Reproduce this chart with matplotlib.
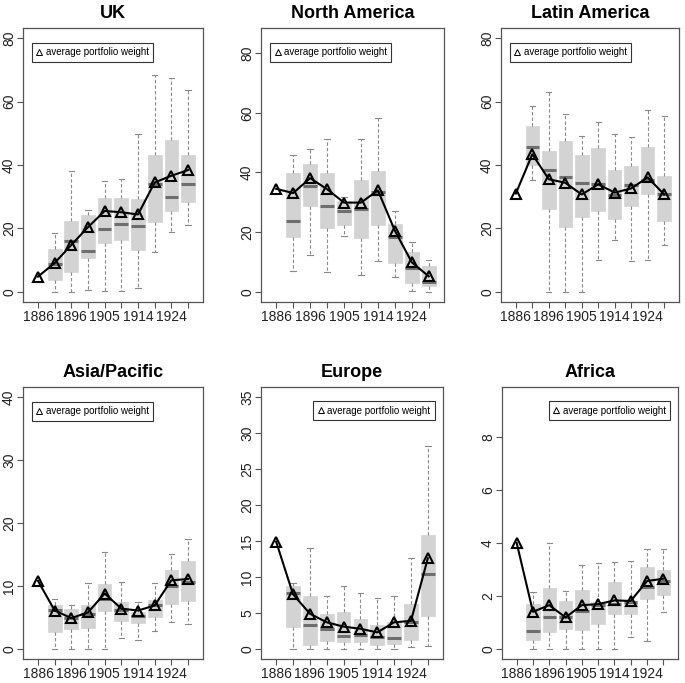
import matplotlib.pyplot as plt

plt.rcParams['font.family'] = ['Liberation Sans', 'DejaVu Sans']

# 10 periods; first one (1886) has only the average, boxes start at period 2
tick_labels = ["1886", "", "1896", "", "1905", "", "1914", "", "1924", ""]

regions = ["UK", "North America", "Latin America", "Asia/Pacific", "Europe", "Africa"]

# average portfolio weight (10 values per region)
uk_mean = [4.8, 9.1, 14.8, 20.4, 25.5, 25.1, 24.4, 34.5, 36.6, 38.4]
na_mean = [34.5, 33.1, 38.1, 34.4, 29.9, 29.9, 34.0, 20.5, 9.9, 5.2]
la_mean = [31.0, 43.4, 35.5, 34.4, 30.7, 33.9, 31.3, 32.6, 36.1, 30.7]
as_mean = [10.8, 6.1, 4.9, 5.8, 8.8, 6.4, 6.1, 6.9, 10.9, 11.1]
eu_mean = [14.9, 7.6, 4.9, 3.7, 3.1, 2.8, 2.3, 3.7, 3.9, 12.6]
af_mean = [4.0, 1.4, 1.65, 1.19, 1.65, 1.69, 1.83, 1.81, 2.56, 2.65]

# box statistics for periods 2..10
uk_q1 = [3.8, 6.3, 10.6, 15.4, 16.2, 13.2, 22.0, 25.6, 28.3]
uk_med = [8.7, 16.0, 13.0, 19.8, 21.3, 20.7, 33.9, 29.8, 33.9]
uk_q3 = [13.5, 22.2, 24.1, 29.6, 29.6, 29.4, 43.2, 47.9, 43.0]
uk_lo = [0.0, 0.0, 0.7, 0.3, 0.3, 1.2, 12.5, 19.0, 21.2]
uk_hi = [18.6, 38.1, 25.7, 34.9, 35.6, 49.7, 68.4, 67.5, 63.7]

na_q1 = [18.4, 28.8, 21.5, 22.3, 18.0, 22.3, 9.8, 3.0, 1.8]
na_med = [23.7, 35.5, 28.8, 27.2, 27.6, 33.4, 18.4, 8.1, 3.4]
na_q3 = [39.8, 42.7, 39.8, 30.5, 37.6, 40.6, 22.9, 13.3, 8.6]
na_lo = [6.9, 12.3, 6.7, 18.8, 5.6, 10.5, 5.1, 0.3, 0.0]
na_hi = [46.0, 47.9, 51.3, 31.9, 51.3, 58.4, 27.2, 16.6, 10.6]

la_q1 = [40.0, 26.2, 20.4, 23.5, 25.5, 23.1, 27.1, 30.8, 22.3]
la_med = [45.6, 38.4, 36.3, 34.2, 34.0, 30.5, 33.6, 35.2, 31.0]
la_q3 = [52.2, 44.5, 47.5, 43.2, 45.3, 38.4, 39.7, 45.6, 36.5]
la_lo = [35.2, 0.1, 0.1, 0.0, 10.1, 16.5, 9.6, 9.9, 14.8]
la_hi = [58.7, 63.0, 56.1, 49.3, 53.7, 49.7, 48.9, 57.5, 55.3]

as_q1 = [2.7, 3.1, 3.4, 6.0, 4.5, 4.1, 5.0, 7.2, 7.6]
as_med = [6.2, 4.9, 5.6, 7.9, 6.2, 5.2, 6.9, 10.0, 10.6]
as_q3 = [7.0, 6.3, 6.9, 10.3, 7.5, 5.9, 7.7, 12.5, 13.9]
as_lo = [0.0, 0.0, 0.0, 0.0, 1.7, 1.4, 2.9, 4.3, 3.9]
as_hi = [7.9, 6.9, 10.5, 15.4, 10.7, 7.5, 10.4, 15.0, 17.4]

eu_q1 = [3.0, 0.55, 1.1, 0.9, 1.0, 0.55, 0.65, 1.3, 4.6]
eu_med = [7.8, 3.3, 2.8, 1.8, 2.0, 1.7, 1.5, 3.8, 10.4]
eu_q3 = [8.8, 7.4, 4.9, 5.1, 4.2, 3.3, 3.8, 6.3, 15.8]
eu_lo = [0.0, 0.0, 0.0, 0.0, 0.0, 0.0, 0.0, 0.2, 0.46]
eu_hi = [9.2, 14.0, 7.4, 8.7, 7.8, 7.1, 7.4, 12.7, 28.2]

af_q1 = [0.35, 0.65, 0.74, 0.71, 0.95, 1.3, 1.31, 1.88, 2.03]
af_med = [0.66, 1.19, 1.19, 1.43, 1.65, 1.69, 1.78, 2.35, 2.56]
af_q3 = [1.68, 2.3, 1.8, 2.21, 1.78, 2.53, 1.8, 3.09, 2.99]
af_lo = [0.0, 0.0, 0.0, 0.0, 0.0, 0.0, 0.44, 0.3, 1.4]
af_hi = [2.13, 4.01, 2.18, 3.16, 3.26, 3.28, 3.31, 3.76, 3.76]

means = [uk_mean, na_mean, la_mean, as_mean, eu_mean, af_mean]
boxes = [
    (uk_q1, uk_med, uk_q3, uk_lo, uk_hi),
    (na_q1, na_med, na_q3, na_lo, na_hi),
    (la_q1, la_med, la_q3, la_lo, la_hi),
    (as_q1, as_med, as_q3, as_lo, as_hi),
    (eu_q1, eu_med, eu_q3, eu_lo, eu_hi),
    (af_q1, af_med, af_q3, af_lo, af_hi),
]
ylims = [80, 85, 80, 40, 35, 9.5]
yticks = [[0, 20, 40, 60, 80], [0, 20, 40, 60, 80], [0, 20, 40, 60, 80],
          [0, 10, 20, 30, 40], [0, 5, 10, 15, 20, 25, 30, 35], [0, 2, 4, 6, 8]]
legend_right = [False, False, False, False, True, True]

# axes rectangles in pixels: left, top, width, height
W, H = 685, 683
rects = [(23, 28, 180, 274), (261, 28, 183, 274), (501, 28, 178, 274),
         (23, 387, 180, 272), (261, 387, 182, 272), (502, 387, 176, 272)]

fig = plt.figure(figsize=(W / 100, H / 100), dpi=100)

for i in range(6):
    l, t, w, h = rects[i]
    ax = fig.add_axes([l / W, (H - t - h) / H, w / W, h / H])

    q1, med, q3, lo, hi = boxes[i]
    stats = []
    for j in range(len(q1)):
        stats.append({"q1": q1[j], "med": med[j], "q3": q3[j],
                      "whislo": lo[j], "whishi": hi[j], "fliers": []})
    pos = list(range(2, 11))
    ax.bxp(stats, positions=pos, widths=0.82, capwidths=0.32,
           patch_artist=True, showfliers=False,
           boxprops=dict(facecolor="#d3d3d3", edgecolor="#d3d3d3", linewidth=0.5),
           medianprops=dict(color="#6e6e6e", linewidth=2.2, solid_capstyle="butt"),
           whiskerprops=dict(color="#8a8a8a", linewidth=0.8, linestyle=(0, (3, 2))),
           capprops=dict(color="#8a8a8a", linewidth=0.8))

    x = list(range(1, 11))
    ax.plot(x, means[i], color="black", linewidth=1.5, marker="^",
            markersize=6.5, markerfacecolor="none", markeredgecolor="black",
            markeredgewidth=1.5, label="average portfolio weight", zorder=5)

    top = ylims[i]
    ax.set_ylim(-0.04 * top, 1.04 * top)
    ax.set_xlim(0.1, 10.9)
    ax.set_xticks(x)
    ax.set_xticklabels(tick_labels, fontsize=10)
    ax.set_yticks(yticks[i])
    ax.set_yticklabels([str(v) for v in yticks[i]], rotation=90, va="center", fontsize=10)
    ax.tick_params(direction="out", length=4.5, width=0.8, color="#555555",
                   labelcolor="#222222")
    ax.tick_params(axis="x", pad=1)
    ax.tick_params(axis="y", pad=0.5)
    for s in ax.spines.values():
        s.set_color("#555555")
        s.set_linewidth(0.9)
    ax.set_title(regions[i], fontsize=13, fontweight="bold", pad=7)

    if legend_right[i]:
        leg = ax.legend(loc="upper right", bbox_to_anchor=(0.955, 0.948),
                        borderaxespad=0, fontsize=7, fancybox=False,
                        handlelength=0.7, handletextpad=0.3, borderpad=0.45,
                        markerscale=0.6)
    else:
        leg = ax.legend(loc="upper left", bbox_to_anchor=(0.048, 0.945),
                        borderaxespad=0, fontsize=7, fancybox=False,
                        handlelength=0.7, handletextpad=0.3, borderpad=0.45,
                        markerscale=0.6)
    frame = leg.get_frame()
    frame.set_edgecolor("#333333")
    frame.set_linewidth(0.8)
    frame.set_alpha(1)
    for ln in leg.get_lines():
        ln.set_linestyle("none")
        ln.set_markeredgewidth(0.7)

fig.savefig("out.png", dpi=100)
